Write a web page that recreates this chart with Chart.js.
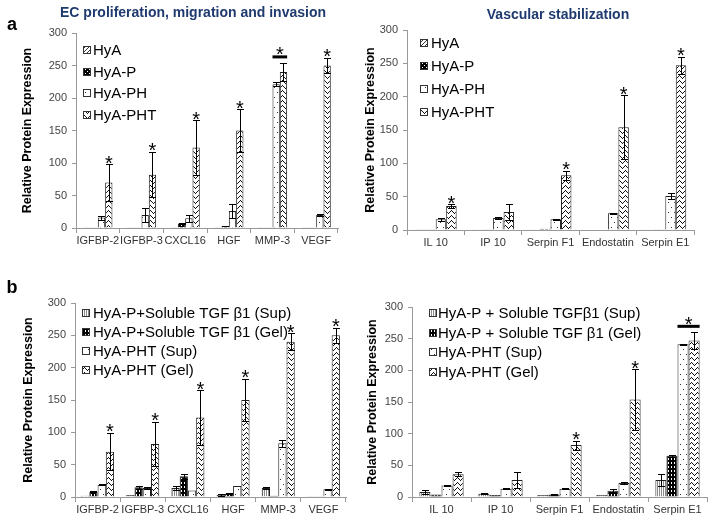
<!DOCTYPE html>
<html>
<head>
<meta charset="utf-8">
<script src="https://cdn.jsdelivr.net/npm/chart.js@4.4.0/dist/chart.umd.min.js"></script>
<style>
  body { margin: 0; background: #fff; width: 714px; height: 523px; position: relative; overflow: hidden; }
  canvas { position: absolute; }
</style>
</head>
<body>
<canvas id="aLeft"></canvas>
<canvas id="aRight"></canvas>
<canvas id="bLeft"></canvas>
<canvas id="bRight"></canvas>
<script>
const FONT = '"Liberation Sans", Arial, sans-serif';

const growthCats = ['IGFBP-2', 'IGFBP-3', 'CXCL16', 'HGF', 'MMP-3', 'VEGF'];
const vascCats = ['IL 10', 'IP 10', 'Serpin F1', 'Endostatin', 'Serpin E1'];
const yMax = 300;
const yStep = 50;

const seriesA = ['HyA', 'HyA-P', 'HyA-PH', 'HyA-PHT'];
const seriesBLeft = ['HyA-P+Soluble TGF β1 (Sup)', 'HyA-P+Soluble TGF β1 (Gel)', 'HyA-PHT (Sup)', 'HyA-PHT (Gel)'];
const seriesBRight = ['HyA-P + Soluble TGFβ1 (Sup)', 'HyA-P + Soluble TGF β1 (Gel)', 'HyA-PHT (Sup)', 'HyA-PHT (Gel)'];

// panel a, EC proliferation
const aGrowthHyA = [0.5, 0.5, 0.5, 0.5, 0.5, 0.5];
const aGrowthHyAP = [0.5, 0.5, 7, 3, 1, 1];
const aGrowthHyAPH = [16, 20, 15, 26, 221, 20];
const aGrowthHyAPHT = [70, 82, 124, 150, 240, 250];
const aGrowthErrP = [0, 0, 1, 0.5, 0, 0];
const aGrowthErrPH = [3, 11, 5, 11, 3, 2];
const aGrowthErrPHT = [28, 35, 42, 33, 14, 12];
const aGrowthStar = [3, 3, 3, 3, -1, 3];
const aGrowthSig = [null, null, null, null, [2, 3], null];

// panel a, vascular stabilization
const aVascHyA = [0.5, 0.3, 0.3, 0, 0.3];
const aVascHyAP = [1, 1, 2, 0, 0.3];
const aVascHyAPH = [16, 18, 16, 25, 51];
const aVascHyAPHT = [36, 27, 82, 154, 247];
const aVascErrPH = [2, 1, 1, 1, 4];
const aVascErrPHT = [3, 12, 7, 48, 13];
const aVascStar = [3, -1, 3, 3, 3];

// panel b, EC proliferation
const bGrowthSup = [2, 3, 14, 3, 14, 1];
const bGrowthGel = [8, 15, 32, 5, 2, 0.5];
const bGrowthPHTSup = [19, 14, 10, 17, 83, 12];
const bGrowthPHTGel = [70, 82, 123, 150, 240, 250];
const bGrowthErrSup = [0, 0, 3, 1, 1, 0];
const bGrowthErrGel = [1, 2, 4, 1, 0, 0];
const bGrowthErrPHTSup = [1, 1, 0, 0, 5, 1];
const bGrowthErrPHTGel = [29, 34, 42, 33, 13, 12];
const bGrowthStar = [3, 3, 3, 3, 3, 3];

// panel b, vascular stabilization
const bVascSup = [8, 5, 3, 3, 27];
const bVascGel = [4, 3, 4, 10, 65];
const bVascPHTSup = [18, 13, 13, 22, 241];
const bVascPHTGel = [36, 27, 82, 154, 247];
const bVascErrSup = [3, 1, 0, 0, 9];
const bVascErrGel = [0, 0, 1, 3, 2];
const bVascErrPHTSup = [1, 1, 1, 1, 1];
const bVascErrPHTGel = [3, 12, 7, 48, 13];
const bVascStar = [-1, -1, 3, 3, -1];
const bVascSig = [null, null, null, null, [2, 3]];

// fill patterns, drawn pixel by pixel so they stay crisp
function tile(w, h, bg, fg, pixels) {
  const c = document.createElement('canvas');
  c.width = w; c.height = h;
  const g = c.getContext('2d');
  g.fillStyle = bg; g.fillRect(0, 0, w, h);
  g.fillStyle = fg;
  pixels.forEach(([x, y, pw, ph]) => g.fillRect(x, y, pw || 1, ph || 1));
  return document.createElement('canvas').getContext('2d').createPattern(c, 'repeat');
}
const patDiag = tile(4, 4, '#fff', '#333', [[3, 0], [2, 1], [1, 2], [0, 3]]);
const patChecker = tile(4, 4, '#000', '#fff', [[1, 1], [3, 3]]);
const patDots = tile(6, 10, '#fff', '#333', [[1, 2], [4, 7]]);
const patZigzag = tile(6, 5, '#fff', '#111', [[0, 0], [1, 1], [2, 2], [3, 3], [4, 2], [5, 1]]);
const patVStripe = tile(2, 1, '#fff', '#8a8a8a', [[0, 0]]);
const patVDash = tile(3, 4, '#000', '#fff', [[1, 0, 1, 2]]);

const panels = {
  aLeft: { pos: [0, 0, 355, 262], area: [76, 338, 33, 228], cat: 0.67, yPad: 20,
    letter: ['a', 12, 30], title: ['EC proliferation, migration and invasion', 193, 17],
    legend: [83, 93, 50, 21.5] },
  aRight: { pos: [355, 0, 359, 262], area: [52, 339, 30, 230], cat: 0.73, yPad: 8,
    title: ['Vascular stabilization', 203, 19], legend: [65, 76, 43, 23] },
  bLeft: { pos: [0, 262, 355, 261], area: [75, 346, 41, 235], cat: 0.73, yPad: 21,
    letter: ['b', 12, 31], legend: [82, 93, 51, 19] },
  bRight: { pos: [355, 262, 359, 261], area: [57, 352, 45, 235], cat: 0.75, yPad: 10,
    legend: [74, 83, 51, 19.7] }
};

function errTop(chart, di, j) {
  const ds = chart.data.datasets[di];
  return chart.scales.y.getPixelForValue(ds.data[j] + (ds.errors[j] || 0));
}

const deco = {
  id: 'deco',
  afterDatasetsDraw(chart) {
    const ctx = chart.ctx, y = chart.scales.y;
    ctx.save();
    ctx.strokeStyle = '#000';
    ctx.lineWidth = 1;
    chart.data.datasets.forEach((ds, i) => {
      chart.getDatasetMeta(i).data.forEach((bar, j) => {
        const e = ds.errors[j];
        if (!e) return;
        const v = ds.data[j];
        const x = Math.round(bar.x) + 0.5;
        const t = Math.round(y.getPixelForValue(v + e)) + 0.5;
        const b = Math.round(y.getPixelForValue(Math.max(0, v - e))) + 0.5;
        ctx.beginPath();
        ctx.moveTo(x, t); ctx.lineTo(x, b);
        ctx.moveTo(x - 3.5, t); ctx.lineTo(x + 3.5, t);
        ctx.moveTo(x - 3.5, b); ctx.lineTo(x + 3.5, b);
        ctx.stroke();
      });
    });
    ctx.restore();
  },
  afterDraw(chart) {
    const cfg = panels[chart.canvas.id];
    const ctx = chart.ctx;
    const sets = chart.data.datasets;
    ctx.save();
    ctx.fillStyle = '#000';
    ctx.textAlign = 'center';
    ctx.textBaseline = 'alphabetic';
    ctx.font = '20px ' + FONT;
    const star = (x, bottom) => ctx.fillText('*', x, bottom + 8.5);
    (cfg.stars || []).forEach((s, j) => {
      if (s < 0) return;
      const bar = chart.getDatasetMeta(s).data[j];
      star(bar.x, errTop(chart, s, j) - 3);
    });
    (cfg.sig || []).forEach((s, j) => {
      if (!s) return;
      const b1 = chart.getDatasetMeta(s[0]).data[j];
      const b2 = chart.getDatasetMeta(s[1]).data[j];
      const top = Math.min(errTop(chart, s[0], j), errTop(chart, s[1], j)) - 6;
      ctx.fillRect(b1.x - b1.width / 2, top - 1.5, b2.x + b2.width / 2 - (b1.x - b1.width / 2), 3);
      star((b1.x + b2.x) / 2, top - 4);
    });
    // panel letter and title
    if (cfg.letter) {
      ctx.font = 'bold 18px ' + FONT;
      ctx.fillText(cfg.letter[0], cfg.letter[1], cfg.letter[2]);
    }
    if (cfg.title) {
      ctx.font = 'bold 14px ' + FONT;
      ctx.fillStyle = '#1f3a6e';
      ctx.fillText(cfg.title[0], cfg.title[1], cfg.title[2]);
    }
    // legend
    const [sx, tx, y0, dy] = cfg.legend;
    ctx.font = '15px ' + FONT;
    ctx.textAlign = 'left';
    ctx.lineWidth = 1;
    ctx.strokeStyle = '#333';
    sets.forEach((ds, i) => {
      const cy = Math.round(y0 + i * dy);
      ctx.fillStyle = ds.backgroundColor;
      ctx.fillRect(sx, cy - 4, 8, 8);
      ctx.strokeRect(sx + 0.5, cy - 3.5, 7, 7);
      ctx.fillStyle = '#000';
      ctx.fillText(ds.label, tx, cy + 5.4);
    });
    ctx.restore();
  }
};

function build(id, cats, labels, values, errors, pats, stars, sig) {
  const cfg = panels[id];
  cfg.stars = stars;
  cfg.sig = sig;
  const canvas = document.getElementById(id);
  const [left, top, w, h] = cfg.pos;
  const [al, ar, at, ab] = cfg.area;
  const xH = 22;
  canvas.width = w; canvas.height = h;
  canvas.style.left = left + 'px';
  canvas.style.top = top + 'px';
  new Chart(canvas, {
    type: 'bar',
    data: {
      labels: cats,
      datasets: values.map((v, i) => ({
        label: labels[i],
        data: v,
        errors: errors[i],
        backgroundColor: pats[i],
        borderColor: '#222',
        borderWidth: 1,
        categoryPercentage: cfg.cat,
        barPercentage: 1
      }))
    },
    options: {
      responsive: false,
      animation: false,
      devicePixelRatio: 1,
      layout: { padding: { left: 0, top: at, right: w - ar, bottom: h - ab - xH } },
      plugins: { legend: { display: false }, tooltip: { enabled: false } },
      scales: {
        x: {
          grid: { offset: true, drawOnChartArea: false, tickLength: 5, color: '#999' },
          border: { color: '#999' },
          ticks: { font: { family: FONT, size: 11 }, color: '#333', padding: 1, maxRotation: 0, autoSkip: false },
          afterFit(s) { s.height = xH; }
        },
        y: {
          min: 0, max: yMax,
          grid: { drawOnChartArea: false, tickLength: 4, color: '#999' },
          border: { color: '#999' },
          ticks: { stepSize: yStep, font: { family: FONT, size: 11 }, color: '#444', padding: 5 },
          title: { display: true, text: 'Relative Protein Expression', color: '#000',
                   font: { family: FONT, size: 12.5, weight: 'bold' }, padding: { top: cfg.yPad, bottom: 0 } },
          afterFit(s) { s.width = al; }
        }
      }
    },
    plugins: [deco]
  });
}

const patsA = [patDiag, patChecker, patDots, patZigzag];
const patsB = [patVStripe, patVDash, patDots, patZigzag];

build('aLeft', growthCats, seriesA,
  [aGrowthHyA, aGrowthHyAP, aGrowthHyAPH, aGrowthHyAPHT],
  [[], aGrowthErrP, aGrowthErrPH, aGrowthErrPHT], patsA, aGrowthStar, aGrowthSig);
build('aRight', vascCats, seriesA,
  [aVascHyA, aVascHyAP, aVascHyAPH, aVascHyAPHT],
  [[], [], aVascErrPH, aVascErrPHT], patsA, aVascStar, null);
build('bLeft', growthCats, seriesBLeft,
  [bGrowthSup, bGrowthGel, bGrowthPHTSup, bGrowthPHTGel],
  [bGrowthErrSup, bGrowthErrGel, bGrowthErrPHTSup, bGrowthErrPHTGel], patsB, bGrowthStar, null);
build('bRight', vascCats, seriesBRight,
  [bVascSup, bVascGel, bVascPHTSup, bVascPHTGel],
  [bVascErrSup, bVascErrGel, bVascErrPHTSup, bVascErrPHTGel], patsB, bVascStar, bVascSig);
</script>
</body>
</html>
